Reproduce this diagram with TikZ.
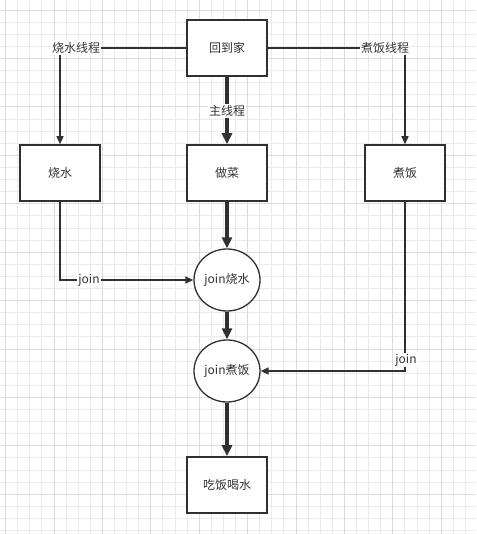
\documentclass[tikz,border=0pt]{standalone}
\usepackage{fontspec}
\setmainfont{Noto Sans CJK SC}
\usetikzlibrary{shapes.geometric,arrows.meta}
\definecolor{ink}{HTML}{303030}
\definecolor{txt}{HTML}{333333}
\definecolor{gminor}{HTML}{EBEBEB}
\definecolor{gmajor}{HTML}{DCDCDC}
\tikzset{
  box/.style={draw=ink, line width=1.6pt, fill=white, minimum width=80pt, minimum height=56pt, inner sep=0pt, text=txt, font=\fontsize{12}{14}\selectfont},
  joinnode/.style={ellipse, draw=ink, line width=1.3pt, fill=white, minimum width=66pt, minimum height=62pt, inner sep=0pt, text=txt, font=\fontsize{12}{14}\selectfont},
  thin/.style={draw=ink, line width=1.5pt, -{Triangle[length=8pt,width=7pt]}},
  thick/.style={draw=ink, line width=3.8pt, -{Triangle[length=11pt,width=10pt]}},
  lbl/.style={fill=white, inner sep=1pt, text=txt, font=\fontsize{12}{14}\selectfont},
}
\begin{document}
\begin{tikzpicture}[x=1pt,y=-1pt]
\useasboundingbox (0,0) rectangle (476,534);
\fill[white] (0,0) rectangle (476,534);
% grid
\foreach \i in {0,...,39} {
  \pgfmathsetmacro{\xx}{5.5+12.1*\i}
  \draw[gminor, line width=0.8pt] (\xx,0) -- (\xx,534);
}
\foreach \i in {0,...,44} {
  \pgfmathsetmacro{\yy}{10.1+12.1*\i}
  \draw[gminor, line width=0.8pt] (0,\yy) -- (476,\yy);
}
\foreach \i in {0,4,...,39} {
  \pgfmathsetmacro{\xx}{5.5+12.1*\i}
  \draw[gmajor, line width=0.8pt] (\xx,0) -- (\xx,534);
}
\foreach \i in {0,4,...,44} {
  \pgfmathsetmacro{\yy}{10.1+12.1*\i}
  \draw[gmajor, line width=0.8pt] (0,\yy) -- (476,\yy);
}
% nodes
\node[box] (home) at (227,48) {回到家};
\node[box] (shao) at (60,173) {烧水};
\node[box] (zuo) at (227,173) {做菜};
\node[box] (zhu) at (405,173) {煮饭};
\node[joinnode] (j1) at (227,280) {join烧水};
\node[joinnode] (j2) at (227,371) {join煮饭};
\node[box] (eat) at (227,485) {吃饭喝水};
% connectors
\draw[thin] (home.west) -| (shao.north);
\draw[thin] (home.east) -| (zhu.north);
\draw[thick] (home.south) -- (zuo.north);
\draw[thin] (shao.south) |- (j1.west);
\draw[thick] (zuo.south) -- (j1.north);
\draw[thick] (j1.south) -- (j2.north);
\draw[thin] (zhu.south) |- (j2.east);
\draw[thick] (j2.south) -- (eat.north);
% labels
\node[lbl] (l1) at (76,48) {烧水线程};
\node[lbl] (l2) at (385,48) {煮饭线程};
\node[lbl] (l3) at (227,111) {主线程};
\node[lbl] (l4) at (89,280) {join};
\node[lbl] (l5) at (406,360) {join};
\end{tikzpicture}
\end{document}
